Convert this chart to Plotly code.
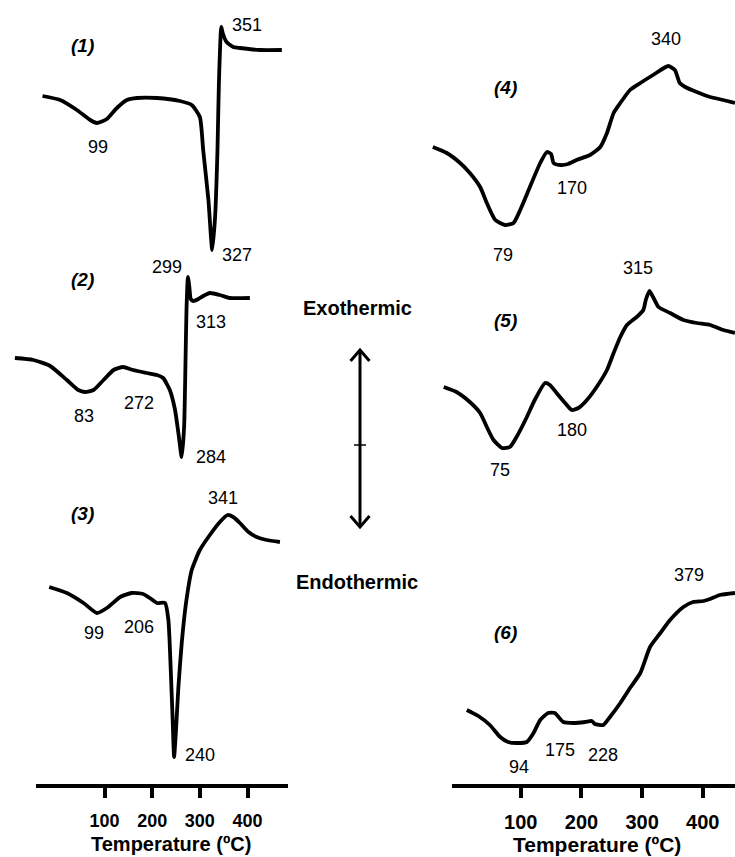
import plotly.graph_objects as go

# ---------------- data: DSC traces (temperature in ºC, heat flow in arbitrary units) ----------------
t1 = [-30, 7, 42, 70, 84, 105, 126, 147, 168, 210, 258, 283, 300, 307, 318, 326, 332, 337, 340, 345, 348, 356, 370, 384, 426, 472]
h1 = [0.4, 0.0, -1.0, -2.0, -2.3, -1.9, -0.8, 0.0, 0.2, 0.2, -0.1, -0.5, -1.7, -5.0, -10.0, -15.0, -11.7, -5.0, 1.7, 7.3, 6.7, 5.8, 5.3, 5.2, 5.0, 5.0]

t2 = [-88, -49, -14, 21, 45, 59, 77, 98, 119, 139, 160, 189, 210, 223, 237, 248, 255, 262, 267, 270, 272, 275, 278, 281, 286, 297, 307, 321, 342, 363, 405]
h2 = [0.2, 0.0, -0.6, -2.0, -3.0, -3.2, -3.0, -2.0, -1.0, -0.7, -1.0, -1.3, -1.5, -1.8, -3.0, -5.0, -7.3, -9.7, -6.7, 0.0, 5.0, 8.3, 7.3, 6.1, 5.9, 6.1, 6.4, 6.7, 6.5, 6.2, 6.2]

t3 = [-16, 21, 56, 84, 105, 133, 157, 181, 195, 210, 227, 234, 239, 243, 246, 250, 255, 262, 271, 283, 300, 321, 342, 358, 370, 384, 402, 419, 440, 468]
h3 = [0.3, -0.3, -1.3, -2.3, -1.8, -0.7, -0.3, -0.4, -0.8, -1.3, -1.3, -3.0, -8.0, -13.0, -16.7, -14.0, -9.7, -5.3, -1.3, 2.0, 4.0, 5.5, 6.8, 7.5, 7.3, 6.7, 5.8, 5.3, 5.0, 4.8]

t4 = [-45, -22, 0, 16, 33, 44, 58, 74, 88, 99, 115, 132, 143, 150, 154, 165, 178, 192, 214, 231, 242, 253, 264, 280, 297, 318, 343, 354, 362, 371, 390, 412, 434, 453]
h4 = [0.3, -0.3, -1.3, -2.3, -3.7, -5.3, -7.0, -7.5, -7.3, -6.0, -3.7, -1.3, -0.2, -0.4, -1.3, -1.5, -1.4, -1.0, -0.5, 0.3, 1.7, 3.7, 4.7, 6.0, 6.7, 7.5, 8.4, 8.0, 6.7, 6.3, 5.8, 5.3, 5.0, 4.7]

t5 = [-27, -6, 16, 33, 44, 55, 69, 82, 93, 110, 123, 140, 148, 159, 173, 184, 195, 209, 225, 242, 253, 264, 275, 291, 302, 306, 312, 318, 327, 346, 368, 390, 412, 434, 453]
h5 = [0.3, -0.2, -1.2, -2.3, -3.7, -5.0, -5.8, -5.7, -4.7, -2.7, -1.0, 0.7, 0.5, -0.3, -1.3, -2.0, -1.8, -1.0, 0.3, 2.0, 3.7, 5.3, 6.5, 7.3, 8.0, 9.0, 9.9, 9.3, 8.3, 7.7, 7.0, 6.7, 6.5, 6.0, 5.7]

t6 = [11, 30, 49, 66, 79, 93, 110, 121, 132, 145, 156, 170, 187, 206, 217, 222, 236, 247, 264, 280, 297, 313, 330, 346, 368, 384, 401, 412, 428, 453]
h6 = [0.0, -0.6, -1.5, -2.7, -3.2, -3.3, -3.2, -2.3, -1.0, -0.3, -0.3, -1.2, -1.3, -1.2, -1.1, -1.4, -1.5, -0.7, 0.7, 2.2, 3.7, 6.3, 7.7, 9.0, 10.3, 10.8, 10.9, 11.1, 11.5, 11.7]

# peak / event temperatures written next to each trace: (text, temperature position, heat-flow position)
labels1 = [("99", 86, -4.7), ("327", 378, -15.5), ("351", 399, 7.5)]
labels2 = [("83", 57, -5.6), ("272", 172, -4.3), ("284", 323, -9.7), ("299", 231, 9.3), ("313", 323, 3.8)]
labels3 = [("99", 78, -4.3), ("206", 172, -3.7), ("240", 300, -16.5), ("341", 349, 9.2)]
labels4 = [("79", 71, -10.5), ("170", 184, -3.8), ("340", 339, 11.1)]
labels5 = [("75", 66, -8.0), ("180", 184, -4.0), ("315", 293, 12.2)]
labels6 = [("94", 97, -5.7), ("175", 165, -4.0), ("228", 236, -4.5), ("379", 377, 13.5)]

sample_names = ["(1)", "(2)", "(3)", "(4)", "(5)", "(6)"]
tick_values = [100, 200, 300, 400]
tick_text = ["100", "200", "300", "400"]
axis_title = "Temperature (ºC)"

# ---------------- layout geometry (pixels of the 735 x 857 page) ----------------
W, H = 735, 857
FONT = "Liberation Sans, Arial, sans-serif"
AXIS_Y = 786          # baseline of both temperature axes
UNIT_PX = 10.0        # pixels per heat-flow unit

# temperature scale of each column: pixel = origin + (T - 100) * slope
LEFT = dict(origin=104.5, slope=0.4767, dom=(0, 300), line=(36, 288), tickfont=18, title_x=171, title_size=20)
RIGHT = dict(origin=520.8, slope=0.6067, dom=(430, 735), line=(452, 735), tickfont=20, title_x=597, title_size=21)


def temp_at(col, px):
    return 100 + (px - col["origin"]) / col["slope"]


def px_x(x):
    return x / W


def px_y(y):
    return 1 - y / H


# each trace has its own hidden vertical axis; the reference pixel row is heat flow 0
curves = [
    dict(t=t1, h=h1, col="x", ref=100, labels=labels1, name_pos=(53, 5.5)),
    dict(t=t2, h=h2, col="x", ref=360, labels=labels2, name_pos=(53, 8.1)),
    dict(t=t3, h=h3, col="x", ref=590, labels=labels3, name_pos=(53, 7.7)),
    dict(t=t4, h=h4, col="x2", ref=150, labels=labels4, name_pos=(74, 6.3)),
    dict(t=t5, h=h5, col="x2", ref=390, labels=labels5, name_pos=(74, 7.0)),
    dict(t=t6, h=h6, col="x2", ref=710, labels=labels6, name_pos=(74, 7.8)),
]

fig = go.Figure()
annotations = []
layout_axes = {}

for i, c in enumerate(curves):
    n = i + 1
    yname = "y" if n == 1 else f"y{n}"
    ykey = "yaxis" if n == 1 else f"yaxis{n}"
    fig.add_trace(go.Scatter(
        x=c["t"], y=c["h"], xaxis=c["col"], yaxis=yname, mode="lines",
        line=dict(color="black", width=3.8, shape="spline", smoothing=0.55),
        hoverinfo="skip", showlegend=False,
    ))
    yax = dict(domain=[0, 1], range=[(c["ref"] - H) / UNIT_PX, c["ref"] / UNIT_PX],
               visible=False, fixedrange=True, anchor=c["col"])
    if n in (2, 3):
        yax["overlaying"] = "y"
    if n in (5, 6):
        yax["overlaying"] = "y4"
    layout_axes[ykey] = yax

    for text, tx, hy in c["labels"]:
        annotations.append(dict(text=text, x=tx, y=hy, xref=c["col"], yref=yname,
                                showarrow=False, xanchor="center", yanchor="middle",
                                font=dict(family=FONT, size=18, color="black")))
    nx, ny = c["name_pos"]
    annotations.append(dict(text=f"<b><i>{sample_names[i]}</i></b>", x=nx, y=ny,
                            xref=c["col"], yref=yname, showarrow=False,
                            xanchor="center", yanchor="middle",
                            font=dict(family=FONT, size=19, color="black")))

shapes = []
for key, col in (("xaxis", LEFT), ("xaxis2", RIGHT)):
    layout_axes[key] = dict(
        domain=[px_x(col["dom"][0]), px_x(col["dom"][1])],
        range=[temp_at(col, col["dom"][0]), temp_at(col, col["dom"][1])],
        anchor="free", position=px_y(AXIS_Y),
        showline=False, showgrid=False, zeroline=False, fixedrange=True,
        tickmode="array", tickvals=tick_values,
        ticktext=[f"<b>{t}</b>" for t in tick_text],
        ticks="outside", ticklen=11, tickwidth=3.5, tickcolor="black",
        ticklabelstandoff=7,
        tickfont=dict(family=FONT, size=col["tickfont"], color="black"),
    )
    # thick baseline of the temperature axis
    shapes.append(dict(type="line", xref="paper", yref="paper",
                       x0=px_x(col["line"][0]), x1=px_x(col["line"][1]),
                       y0=px_y(AXIS_Y), y1=px_y(AXIS_Y),
                       line=dict(color="black", width=4)))
    annotations.append(dict(text=f"<b>{axis_title}</b>", x=px_x(col["title_x"]), y=px_y(844),
                            xref="paper", yref="paper", showarrow=False,
                            xanchor="center", yanchor="middle",
                            font=dict(family=FONT, size=col["title_size"], color="black")))

# exo / endo direction indicator between the two columns
AX = 360
shapes += [
    dict(type="line", xref="paper", yref="paper", x0=px_x(AX), x1=px_x(AX),
         y0=px_y(350), y1=px_y(527), line=dict(color="black", width=3)),
    dict(type="path", xref="paper", yref="paper",
         path=f"M {px_x(AX - 9.5)} {px_y(361)} L {px_x(AX)} {px_y(350)} L {px_x(AX + 9.5)} {px_y(361)}",
         line=dict(color="black", width=3)),
    dict(type="path", xref="paper", yref="paper",
         path=f"M {px_x(AX - 9.5)} {px_y(516)} L {px_x(AX)} {px_y(527)} L {px_x(AX + 9.5)} {px_y(516)}",
         line=dict(color="black", width=3)),
    dict(type="line", xref="paper", yref="paper", x0=px_x(AX - 6), x1=px_x(AX + 6),
         y0=px_y(445), y1=px_y(445), line=dict(color="black", width=1.5)),
]
annotations += [
    dict(text="<b>Exothermic</b>", x=px_x(357), y=px_y(308), xref="paper", yref="paper",
         showarrow=False, xanchor="center", yanchor="middle",
         font=dict(family=FONT, size=20, color="black")),
    dict(text="<b>Endothermic</b>", x=px_x(357), y=px_y(582), xref="paper", yref="paper",
         showarrow=False, xanchor="center", yanchor="middle",
         font=dict(family=FONT, size=20, color="black")),
]

fig.update_layout(
    width=W, height=H,
    margin=dict(l=0, r=0, t=0, b=0),
    paper_bgcolor="white", plot_bgcolor="rgba(0,0,0,0)",
    showlegend=False,
    annotations=annotations,
    shapes=shapes,
    **layout_axes,
)

fig.write_html("out.html", config={"displayModeBar": False})
